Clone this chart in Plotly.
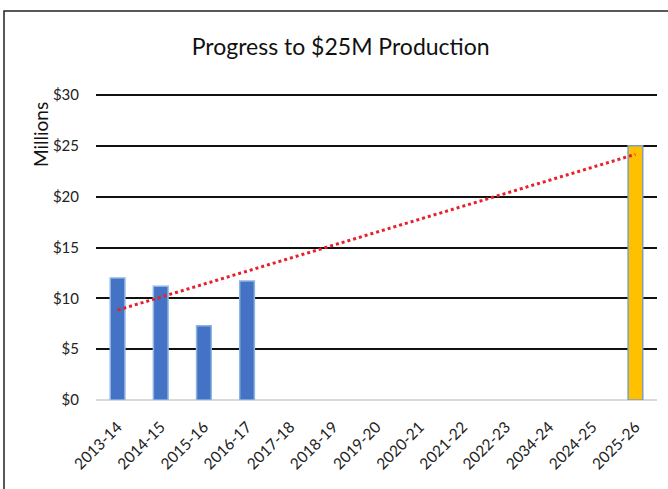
import numpy as np
import plotly.graph_objects as go

categories = ["2013-14", "2014-15", "2015-16", "2016-17", "2017-18", "2018-19",
              "2019-20", "2020-21", "2021-22", "2022-23", "2034-24", "2024-25", "2025-26"]
actual = [12.0, 11.2, 7.3, 11.7, None, None, None, None, None, None, None, None, None]
goal = [None] * 12 + [25.0]
y_ticks = [0, 5, 10, 15, 20, 25, 30]
y_tick_labels = ["$0", "$5", "$10", "$15", "$20", "$25", "$30"]

# Linear trendline through all plotted values (as Excel does)
xs, ys = [], []
for i, (a, g) in enumerate(zip(actual, goal)):
    v = a if a is not None else g
    if v is not None:
        xs.append(i)
        ys.append(v)
slope, intercept = np.polyfit(xs, ys, 1)
trend_x = [categories[0], categories[-1]]
trend_y = [intercept, intercept + slope * (len(categories) - 1)]

L, R, T, B = 96, 11, 94, 89
PW, PH = 668 - L - R, 489 - T - B

fig = go.Figure()
fig.add_trace(go.Bar(x=categories, y=actual, marker=dict(color="#4472C4", line=dict(color="#8DB4E2", width=1.5)),
                     width=0.34, showlegend=False))
fig.add_trace(go.Bar(x=categories, y=goal, marker=dict(color="#FFC000", line=dict(color="#7F9FBF", width=1.5)),
                     width=0.34, showlegend=False))
fig.add_trace(go.Scatter(x=trend_x, y=trend_y, mode="lines",
                         line=dict(color="#E8202A", width=3, dash="dot"), showlegend=False))

fig.update_layout(
    width=668, height=489,
    margin=dict(l=L, r=R, t=T, b=B),
    paper_bgcolor="white", plot_bgcolor="white",
    barmode="overlay",
    title=dict(text="Progress to $25M Production", x=0.51, xanchor="center", y=0.905, yanchor="middle",
               font=dict(family="Lato", size=23, color="#111111")),
    xaxis=dict(type="category", categoryorder="array", categoryarray=categories,
               tickangle=-45, tickfont=dict(family="Lato", size=15.5, color="#222222"),
               showgrid=False, showline=False, ticks="", range=[-0.5, len(categories) - 0.5],
               ticklabelstandoff=14),
    yaxis=dict(range=[0, 30.1], tickvals=y_ticks, ticktext=y_tick_labels,
               tickfont=dict(family="Lato", size=15, color="#222222"),
               showgrid=True, gridcolor="#111111", gridwidth=2,
               zeroline=True, zerolinecolor="#D9D9D9", zerolinewidth=2,
               showline=False, ticks="", ticklabelstandoff=16),
    annotations=[dict(text="Millions", textangle=-90, x=(40 - L) / PW, xref="paper",
                      y=(489 - B - 135) / PH, yref="paper",
                      showarrow=False, xanchor="center", yanchor="middle",
                      font=dict(family="Lato", size=19, color="#111111"))],
    shapes=[dict(type="rect", xref="paper", yref="paper",
                 x0=(4 - L) / PW, x1=(720 - L) / PW, y0=(489 - B - 540) / PH, y1=(489 - B - 11) / PH,
                 line=dict(color="#222222", width=1.5), fillcolor="rgba(0,0,0,0)", layer="above")],
)

fig.write_html("out.html", config={"displayModeBar": False},
               post_script="document.body.style.margin='0';")
